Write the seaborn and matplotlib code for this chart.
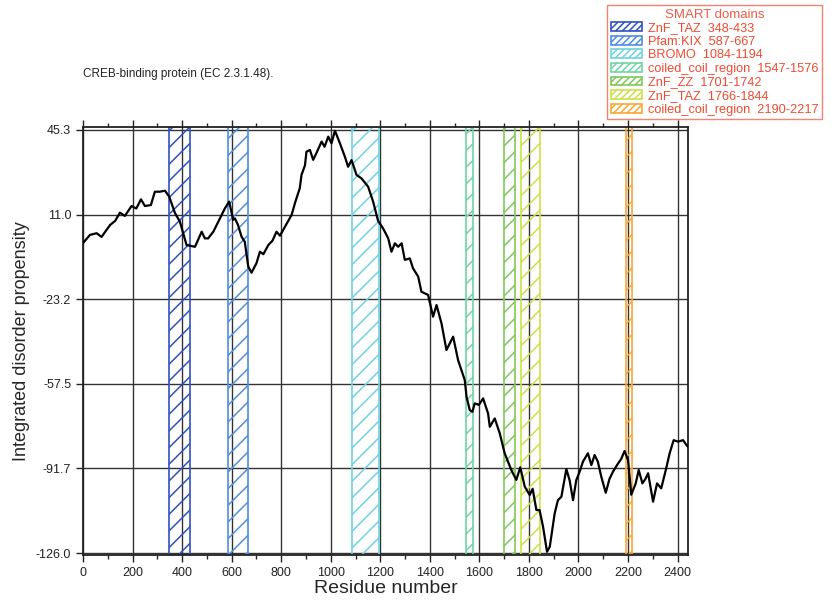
import matplotlib
matplotlib.use("Agg")
import matplotlib.pyplot as plt
import matplotlib.patches as mpatches
from matplotlib.ticker import MultipleLocator, FixedLocator
import seaborn as sns
import pandas as pd

# ---- data ----
residue = [0, 28, 55, 75, 109, 130, 149, 169, 196, 215, 234, 250, 274, 290, 310, 331,
           348, 371, 391, 418, 452, 479, 492, 505, 526, 543, 573, 590, 606, 613, 625,
           640, 653, 667, 680, 700, 714, 728, 748, 765, 781, 795, 815, 842, 858, 875,
           882, 896, 902, 916, 929, 942, 963, 975, 990, 1003, 1017, 1037, 1057, 1070,
           1084, 1104, 1124, 1151, 1171, 1191, 1211, 1232, 1245, 1259, 1272, 1286,
           1299, 1319, 1332, 1353, 1366, 1393, 1413, 1427, 1447, 1467, 1494, 1514,
           1541, 1548, 1561, 1572, 1581, 1598, 1615, 1635, 1642, 1662, 1682, 1702,
           1729, 1749, 1765, 1783, 1803, 1815, 1830, 1843, 1857, 1873, 1884, 1904,
           1917, 1931, 1951, 1964, 1978, 1991, 2005, 2018, 2038, 2052, 2065, 2078,
           2092, 2110, 2125, 2139, 2160, 2172, 2186, 2200, 2213, 2231, 2243, 2258,
           2270, 2281, 2301, 2317, 2334, 2354, 2368, 2384, 2402, 2422, 2436, 2442]
propensity = [-0.5, 2.8, 3.5, 2.0, 6.8, 8.5, 11.8, 10.5, 14.5, 13.5, 17.2, 14.5, 14.9,
              20.3, 20.3, 20.7, 18.3, 11.7, 8.2, -1.3, -2.0, 4.1, 1.4, 1.4, 4.1, 7.5,
              13.6, 16.3, 8.9, 9.5, 7.0, 2.1, 0.0, -10.0, -12.5, -8.7, -4.0, -5.0, -1.3,
              0.5, 4.1, 2.5, 6.1, 10.9, 16.5, 21.7, 27.1, 31.0, 36.5, 37.2, 33.2, 35.9,
              40.6, 38.5, 42.6, 39.9, 45.0, 39.9, 34.5, 30.4, 33.1, 27.1, 25.7, 22.3,
              16.3, 8.5, 5.5, 1.4, -4.0, -0.6, -2.0, -0.6, -7.3, -6.7, -10.7, -14.1,
              -20.2, -21.5, -30.3, -25.6, -33.0, -43.8, -38.4, -47.9, -56.0, -62.7,
              -68.1, -68.8, -65.4, -66.0, -63.4, -69.5, -74.9, -71.5, -77.5, -85.6,
              -92.4, -96.4, -91.3, -99.1, -102.5, -100.0, -108.6, -108.6, -115.4,
              -125.5, -123.5, -109.9, -104.6, -103.2, -92.0, -96.5, -104.6, -96.5,
              -93.0, -89.0, -85.6, -90.4, -86.3, -89.0, -95.1, -101.6, -96.0, -93.1,
              -89.7, -88.0, -84.7, -88.4, -102.4, -97.8, -92.4, -97.8, -96.0, -93.7,
              -105.2, -97.8, -99.8, -91.7, -85.6, -80.3, -80.9, -80.3, -82.3, -83.0]

domain_names = ["ZnF_TAZ", "Pfam:KIX", "BROMO", "coiled_coil_region", "ZnF_ZZ",
                "ZnF_TAZ", "coiled_coil_region"]
domain_start = [348, 587, 1084, 1547, 1701, 1766, 2190]
domain_end = [433, 667, 1194, 1576, 1742, 1844, 2217]
domain_colors = ["#2f52c0", "#4f8ee0", "#70d2e2", "#6fd4a6", "#80c85c", "#cde048", "#f9a832"]

y_ticks = [45.3, 11.0, -23.2, -57.5, -91.7, -126.0]
x_ticks = [0, 200, 400, 600, 800, 1000, 1200, 1400, 1600, 1800, 2000, 2200, 2400]

df = pd.DataFrame({"Residue number": residue, "Integrated disorder propensity": propensity})

# ---- style ----
sns.set_style("white")
plt.rcParams["font.family"] = ["Liberation Sans", "DejaVu Sans"]
plt.rcParams["hatch.linewidth"] = 1.1

fig = plt.figure(figsize=(8.31, 6.0), dpi=100)
ax = fig.add_axes([83 / 831, 1 - 555 / 600, (688 - 83) / 831, (555 - 127) / 600])

# domain bands
handles = []
labels = []
for name, s, e, c in zip(domain_names, domain_start, domain_end, domain_colors):
    ax.axvspan(s, e, facecolor="none", edgecolor=c, hatch="//", lw=1.2, zorder=2)
    handles.append(mpatches.Patch(facecolor="none", edgecolor=c, hatch="/////", lw=1.2))
    labels.append(f"{name}  {s}-{e}")

sns.lineplot(data=df, x="Residue number", y="Integrated disorder propensity",
             color="black", lw=1.6, ax=ax, zorder=4)

ax.set_xlim(0, 2442)
ax.set_ylim(-126.8, 46.5)
ax.xaxis.set_major_locator(FixedLocator(x_ticks))
ax.xaxis.set_minor_locator(MultipleLocator(100))
ax.yaxis.set_major_locator(FixedLocator(y_ticks))
ax.set_yticklabels([f"{v:.1f}" for v in y_ticks])
ax.set_xticklabels([str(v) for v in x_ticks])
ax.grid(True, which="major", color="#333333", lw=1.0, zorder=1)
ax.tick_params(axis="both", which="major", direction="out", length=5, width=1,
               labelsize=9, colors="#222222", top=True, left=True, bottom=True)
ax.tick_params(axis="x", which="minor", direction="out", length=3, width=1,
               top=True, bottom=True)
for sp in ax.spines.values():
    sp.set_color("#222222")
    sp.set_linewidth(1.3)
ax.set_xlabel("Residue number", fontsize=14, labelpad=1)
ax.set_ylabel("Integrated disorder propensity", fontsize=13, labelpad=4)

fig.text(83 / 831, 1 - 74 / 600, "CREB-binding protein (EC 2.3.1.48).", fontsize=8.5,
         color="#222222", ha="left", va="center")

leg = fig.legend(handles, labels, title="SMART domains", loc="upper left",
                 bbox_to_anchor=(607 / 831, 1 - 5 / 600), fontsize=9.2,
                 title_fontsize=9.5, frameon=True, fancybox=False, labelspacing=0.12,
                 handlelength=2.4, handleheight=0.7, handletextpad=0.5,
                 borderpad=0.3, borderaxespad=0)
leg.get_frame().set_edgecolor("#f06450")
leg.get_frame().set_linewidth(1.0)
leg.get_title().set_color("#f05a46")
for t in leg.get_texts():
    t.set_color("#f04a30")

fig.savefig("out.png", dpi=100)
